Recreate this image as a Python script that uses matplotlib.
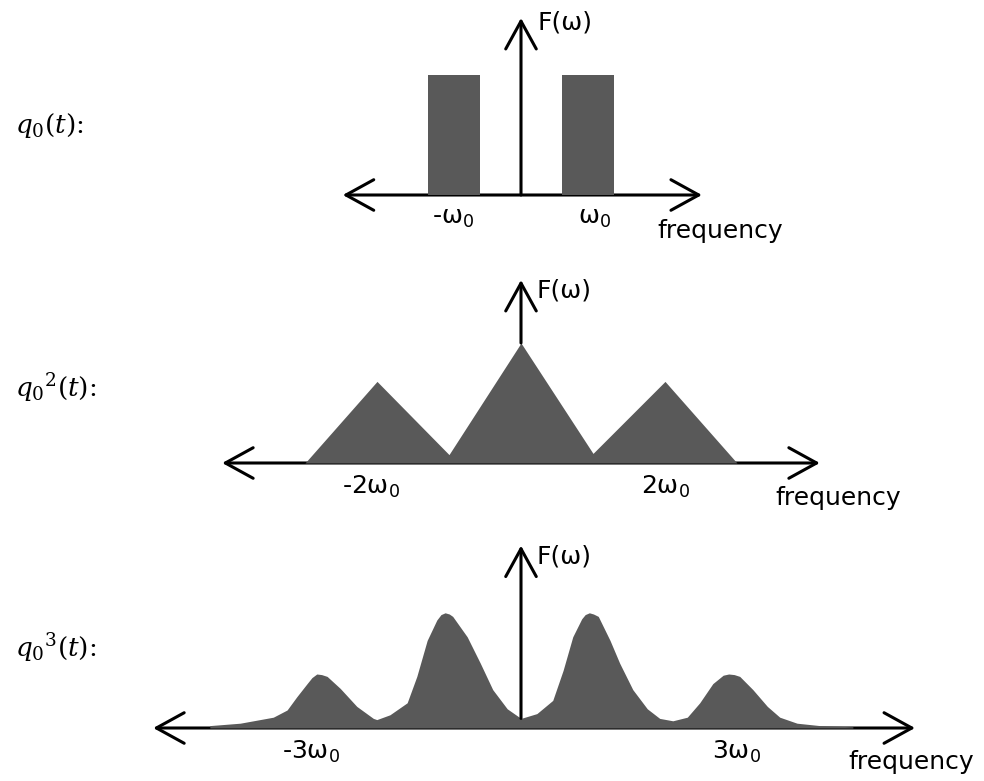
import matplotlib
matplotlib.use('Agg')
import matplotlib.pyplot as plt

W, H = 984, 781
GRAY = '#595959'
PX = 120  # pixels per amplitude unit

# panel 1: q0(t) -> two rectangular bands at +-w0
p1_centers = [-1.0, 1.0]
p1_heights = [1.0, 1.0]
p1_width = 0.79

# panel 2: q0^2(t) -> three triangles (frequency in w0, amplitude)
p2_freq = [-3.0, -2.0, -1.0, 0.0, 1.0, 2.0, 3.0]
p2_amp = [0.0, 0.68, 0.07, 1.0, 0.08, 0.68, 0.0]

# panel 3: q0^3(t) -> four smooth humps
p3_freq = [-4.51, -4.07, -3.59, -3.39, -3.25, -3.10, -3.03, -2.96, -2.89, -2.81,
           -2.62, -2.38, -2.14, -2.09, -1.90, -1.65, -1.51, -1.36, -1.22, -1.16,
           -1.10, -1.04, -0.99, -0.78, -0.59, -0.41, -0.20, 0.00, 0.23, 0.46,
           0.61, 0.75, 0.88, 0.93, 0.99, 1.05, 1.12, 1.29, 1.43, 1.62,
           1.83, 2.01, 2.20, 2.41, 2.59, 2.78, 2.93, 3.01, 3.09, 3.17,
           3.36, 3.57, 3.75, 4.00, 4.33, 4.81]
p3_amp = [0.02, 0.04, 0.09, 0.15, 0.26, 0.37, 0.42, 0.45, 0.445, 0.43,
          0.33, 0.18, 0.08, 0.07, 0.11, 0.21, 0.43, 0.73, 0.90, 0.945,
          0.96, 0.95, 0.93, 0.76, 0.54, 0.32, 0.16, 0.08, 0.12, 0.23,
          0.48, 0.76, 0.91, 0.945, 0.96, 0.95, 0.93, 0.73, 0.54, 0.32,
          0.16, 0.08, 0.06, 0.09, 0.21, 0.37, 0.44, 0.45, 0.445, 0.43,
          0.32, 0.18, 0.09, 0.04, 0.02, 0.01]

row_labels = [r'$q_0(t)$:', r'${q_0}^2(t)$:', r'${q_0}^3(t)$:']
tick_labels = [['-ω$_0$', 'ω$_0$'], ['-2ω$_0$', '2ω$_0$'], ['-3ω$_0$', '3ω$_0$']]
tick_pos = [[-1.01, 1.10], [-2.08, 2.0], [-3.04, 3.13]]

fig = plt.figure(figsize=(9.84, 7.81), dpi=100)
fig.patch.set_facecolor('white')

TXT = dict(fontsize=18, family='DejaVu Sans', color='black',
           math_fontfamily='dejavusans')
HEAD = 'head_length=1.0,head_width=0.55'


def panel(center_px, base_px, unit_px):
    # full-figure transparent axes, x in units of w0, y in amplitude
    ax = fig.add_axes([0, 0, 1, 1])
    ax.set_xlim(-center_px / unit_px, (W - center_px) / unit_px)
    ax.set_ylim((base_px - H) / PX, base_px / PX)
    ax.axis('off')
    ax.patch.set_alpha(0)
    return ax


def draw_axes(ax, x_left, x_right, y_from, y_top, fx, fy):
    ax.annotate('', xy=(x_left, 0), xytext=(x_right, 0),
                arrowprops=dict(arrowstyle='<->,' + HEAD, lw=2.2, color='black',
                                shrinkA=0, shrinkB=0, mutation_scale=20),
                zorder=1)
    ax.annotate('', xy=(0, y_top), xytext=(0, y_from),
                arrowprops=dict(arrowstyle='->,' + HEAD, lw=2.2, color='black',
                                shrinkA=0, shrinkB=0, mutation_scale=20),
                zorder=5)
    ax.text(fx, fy, 'F(ω)', ha='left', va='center', **TXT)


# panel 1
ax1 = panel(521, 195, 67)
ax1.bar(p1_centers, p1_heights, width=p1_width, color=GRAY, zorder=2)
draw_axes(ax1, -2.66, 2.70, 0, 1.475, 0.25, 1.44)
for lab, x in zip(tick_labels[0], tick_pos[0]):
    ax1.text(x, -0.19, lab, ha='center', va='center', **TXT)
ax1.text(2.04, -0.30, 'frequency', ha='left', va='center', **TXT)

# panel 2
ax2 = panel(521, 463, 72)
ax2.fill_between(p2_freq, 0, p2_amp, color=GRAY, lw=0, zorder=2)
draw_axes(ax2, -4.15, 4.15, p2_amp[3], 1.525, 0.22, 1.44)
for lab, x in zip(tick_labels[1], tick_pos[1]):
    ax2.text(x, -0.2, lab, ha='center', va='center', **TXT)
ax2.text(3.53, -0.29, 'frequency', ha='left', va='center', **TXT)

# panel 3
ax3 = panel(521, 728, 69)
ax3.fill_between(p3_freq, 0, p3_amp, color=GRAY, lw=0, zorder=2)
draw_axes(ax3, -5.33, 5.71, p3_amp[27], 1.52, 0.23, 1.43)
for lab, x in zip(tick_labels[2], tick_pos[2]):
    ax3.text(x, -0.2, lab, ha='center', va='center', **TXT)
ax3.text(4.74, -0.28, 'frequency', ha='left', va='center', **TXT)

# row labels on the left
for lab, ypx in zip(row_labels, [125, 388, 648]):
    fig.text(15 / W, 1 - ypx / H, lab, ha='left', va='center', fontsize=19,
             family='DejaVu Serif', math_fontfamily='dejavuserif')

fig.savefig('out.png', dpi=100, facecolor='white')
